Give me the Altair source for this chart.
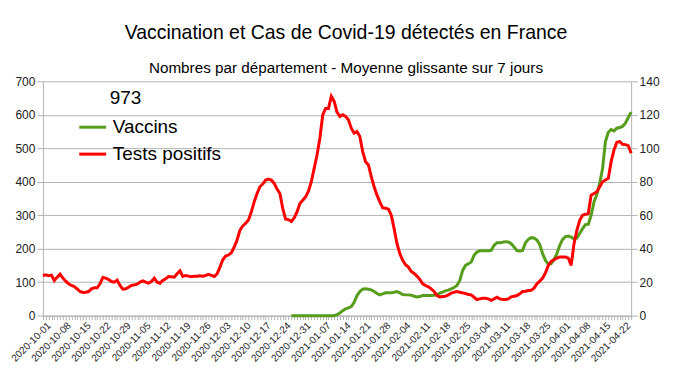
import altair as alt
import pandas as pd

start_date = "2020-10-01"
n_days = 207
dates = pd.date_range(start_date, periods=n_days, freq="D").strftime("%Y-%m-%d").tolist()

# Tests positifs (left axis, 0-700)
tests = [
    120, 122, 119, 121, 105, 115, 124, 112, 103, 95,
    90, 87, 80, 72, 69, 70, 72, 80, 83, 83,
    95, 114, 112, 108, 102, 100, 106, 90, 79, 80,
    85, 90, 92, 94, 100, 104, 100, 97, 102, 112,
    100, 97, 105, 110, 117, 116, 115, 125, 134, 117,
    120, 118, 116, 118, 118, 119, 118, 120, 123, 120,
    117, 125, 145, 167, 178, 181, 188, 205, 226, 255,
    268, 276, 286, 310, 340, 365, 385, 393, 405, 408,
    405, 395, 378, 365, 320, 288, 287, 281, 292, 310,
    335, 345, 355, 372, 400, 440, 480, 530, 600, 619,
    619, 655, 640, 608, 595, 600, 595, 585, 560, 545,
    550, 535, 490, 460, 450, 415, 385, 360, 340, 322,
    321, 318, 300, 260, 215, 185, 165, 152, 145, 132,
    126, 118, 108, 95, 90, 86, 80, 72, 60, 56,
    57, 58, 62, 67, 70, 72, 70, 68, 66, 63,
    62, 55, 48, 50, 52, 52, 50, 46, 50, 55,
    50, 48, 48, 50, 56, 58, 60, 65, 72, 73,
    75, 76, 82, 95, 103, 112, 128, 150, 162, 167,
    172, 175, 175, 175, 172, 150, 215, 255, 285, 300,
    303, 305, 360, 365, 370, 385, 400, 405, 410, 460,
    495, 518, 520, 512, 511, 508, 485,
]

# Vaccins (right axis, 0-140), starting 2020-12-27
vaccins_start = 87
vaccins = [
    0, 0, 0, 0, 0, 0, 0, 0, 0, 0, 0, 0, 0, 0, 0, 0,
    0.6, 1.6, 3, 4, 4.6, 5.4, 8,
    12, 14.4, 15.8, 16, 15.8, 15.4, 14.4, 13.2, 12.4, 13,
    13.6, 13.6, 13.6, 14, 14.4, 13.6, 12.6, 12.4, 12.4, 12.2,
    11.6, 11.2, 11.4, 12, 12, 12, 12, 12.2, 12.6, 13.4,
    14, 14.8, 15.2, 16, 16.8, 18, 21, 27, 30, 31,
    32, 36, 38, 38.8, 38.8, 38.8, 38.8, 39, 42, 43.6,
    43.6, 43.8, 44.2, 44, 43, 41, 38.8, 38.6, 39, 43.6,
    45.6, 46.6, 46.4, 45.2, 42.4, 37, 33, 30.6, 31, 33.6,
    37, 42, 45.6, 47.2, 47.6, 47, 45.8, 46.4, 49.2, 52,
    54.4, 54.6, 60, 68, 72.4, 79, 88, 104, 109.6, 111.2,
    110.4, 112, 112.4, 113, 115, 118.4, 121.6,
]

series_names = ["Vaccins", "Tests positifs"]
series_colors = ["#579d1c", "#ff0000"]
left_ticks = [0, 100, 200, 300, 400, 500, 600, 700]
right_ticks = [0, 20, 40, 60, 80, 100, 120, 140]
legend_title = "973"

assert len(tests) == n_days
assert len(vaccins) == n_days - vaccins_start

rows = []
for i, d in enumerate(dates):
    rows.append({"date": d, "series": "Tests positifs", "value": tests[i]})
for j, v in enumerate(vaccins):
    rows.append({"date": dates[vaccins_start + j], "series": "Vaccins", "value": v})
df = pd.DataFrame(rows)

day_ms = 86400000
t0 = int(pd.Timestamp(start_date, tz="UTC").timestamp() * 1000)
tick_values = [t0 + i * day_ms for i in range(n_days)]

grid_col = "#b3b3b3"
label_col = "#222222"

x_enc = alt.X(
    "date:T",
    scale=alt.Scale(type="utc", domain=[tick_values[0], tick_values[-1]], nice=False),
    axis=alt.Axis(
        title=None,
        values=tick_values,
        labelExpr=f"(round((datum.value - {t0}) / {day_ms}) % 7 == 0) ? utcFormat(datum.value, '%Y-%m-%d') : ''",
        labelAngle=-45,
        labelAlign="right",
        labelBaseline="middle",
        labelOverlap=False,
        labelFlush=False,
        labelBound=False,
        labelFontSize=10,
        labelOffset=6,
        labelColor=label_col,
        labelPadding=4,
        tickSize=4,
        tickColor=grid_col,
        domainColor=grid_col,
        grid=False,
    ),
)

color_enc = alt.Color(
    "series:N",
    scale=alt.Scale(domain=series_names, range=series_colors),
    legend=alt.Legend(
        title=None,
        orient="none",
        legendX=35,
        legendY=31,
        symbolType="stroke",
        symbolSize=729,
        symbolStrokeWidth=3,
        labelFontSize=19,
        labelColor="#000000",
        labelOffset=5,
        rowPadding=2,
        padding=0,
    ),
)

base = alt.Chart(df)

green = base.transform_filter(alt.datum.series == "Vaccins").mark_line(strokeWidth=3).encode(
    x=x_enc,
    y=alt.Y(
        "value:Q",
        scale=alt.Scale(domain=[0, 140], nice=False),
        axis=alt.Axis(
            title=None, orient="right", values=right_ticks, grid=False,
            labelFontSize=12, labelColor=label_col, tickColor=grid_col, tickSize=6,
            domainColor=grid_col, labelPadding=2,
        ),
    ),
    color=color_enc,
)

red = base.transform_filter(alt.datum.series == "Tests positifs").mark_line(strokeWidth=3).encode(
    x=x_enc,
    y=alt.Y(
        "value:Q",
        scale=alt.Scale(domain=[0, 700], nice=False),
        axis=alt.Axis(
            title=None, orient="left", values=left_ticks, grid=True, gridColor=grid_col,
            labelFontSize=12, labelColor=label_col, tickColor=grid_col, tickSize=6,
            domainColor=grid_col, labelPadding=2,
        ),
    ),
    color=color_enc,
)

title_txt = alt.Chart(pd.DataFrame({"t": [legend_title]})).mark_text(
    align="left", baseline="middle", fontSize=19, color="#000000"
).encode(x=alt.value(67), y=alt.value(17), text="t:N")

chart = (
    alt.layer(green, red, title_txt)
    .resolve_scale(y="independent")
    .properties(
        width=590,
        height=235,
        autosize=alt.AutoSizeParams(type="none"),
        padding={"left": 35, "top": 73, "right": 45, "bottom": 60},
        title=alt.TitleParams(
            text="Vaccination et Cas de Covid-19 détectés en France",
            subtitle="Nombres par département - Moyenne glissante sur 7 jours",
            fontSize=19.5,
            subtitleFontSize=15.3,
            fontWeight="normal",
            color="#000000",
            subtitleColor="#000000",
            anchor="middle",
            frame="group",
            dx=9,
            subtitlePadding=18,
            offset=-2,
        ),
    )
    .configure(font="Liberation Sans")
    .configure_view(stroke=None)
)

chart.save("out.html", embed_options={"renderer": "svg", "actions": False})
